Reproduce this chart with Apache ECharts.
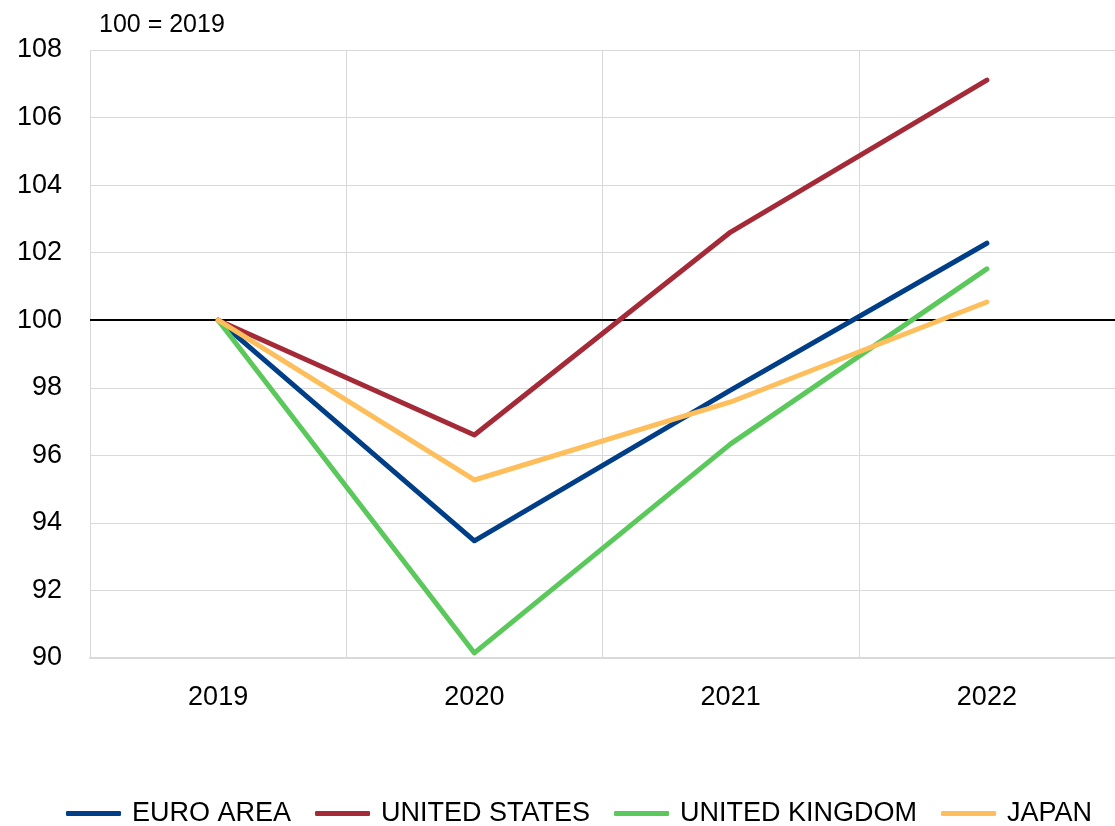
<!DOCTYPE html>
<html>
<head>
<meta charset="utf-8">
<script src="https://cdn.jsdelivr.net/npm/echarts@6/dist/echarts.min.js"></script>
<style>
  html, body { margin: 0; padding: 0; background: #fff; }
  #chart { width: 1115px; height: 826px; }
</style>
</head>
<body>
<div id="chart"></div>
<script>
// categories and series (index, 100 = 2019)
const years = ['2019', '2020', '2021', '2022']
const euroArea = [100, 93.47, 97.93, 102.28]
const unitedStates = [100, 96.6, 102.61, 107.11]
const unitedKingdom = [100, 90.15, 96.34, 101.52]
const japan = [100, 95.27, 97.58, 100.54]

const chart = echarts.init(document.getElementById('chart'))
const font = 'Helvetica, "Liberation Sans", Arial, sans-serif'

const line = (name, data, color) => ({
  name: name,
  type: 'line',
  data: data,
  symbol: 'none',
  lineStyle: { width: 5, color: color, cap: 'round', join: 'round' },
  itemStyle: { color: color },
  z: 3
})

const option = {
  animation: false,
  textStyle: { fontFamily: font },
  title: {
    text: '100 = 2019',
    left: 94,
    top: 8,
    textStyle: { fontSize: 25, fontWeight: 'normal', color: '#000', fontFamily: font }
  },
  grid: { left: 90, right: 0, top: 50, bottom: 168 },
  legend: {
    top: 800,
    left: 66,
    padding: 0,
    itemWidth: 55,
    itemHeight: 5,
    itemGap: 24,
    icon: 'roundRect',
    textStyle: { fontSize: 27, color: '#000', fontFamily: font, padding: [0, 0, 0, 6] },
    data: ['EURO AREA', 'UNITED STATES', 'UNITED KINGDOM', 'JAPAN']
  },
  xAxis: {
    type: 'category',
    data: years,
    boundaryGap: true,
    axisLine: { lineStyle: { color: '#d9d9d9', width: 2 } },
    axisTick: { show: false },
    axisLabel: { fontSize: 27, color: '#000', margin: 26 },
    splitLine: { show: true, lineStyle: { color: '#d9d9d9', width: 1 } }
  },
  yAxis: {
    type: 'value',
    min: 90,
    max: 108,
    interval: 2,
    axisLine: { show: false },
    axisTick: { show: false },
    axisLabel: { fontSize: 27, color: '#000', margin: 28 },
    splitLine: { lineStyle: { color: '#d9d9d9', width: 1 } }
  },
  series: [
    Object.assign(line('EURO AREA', euroArea, '#003f87'), {
      markLine: {
        silent: true,
        symbol: 'none',
        label: { show: false },
        lineStyle: { color: '#000', width: 2, type: 'solid' },
        data: [{ yAxis: 100 }],
        z: 2
      }
    }),
    line('UNITED STATES', unitedStates, '#a52a38'),
    line('UNITED KINGDOM', unitedKingdom, '#5ac85a'),
    line('JAPAN', japan, '#fdbe5b')
  ]
}

chart.setOption(option)
</script>
</body>
</html>
